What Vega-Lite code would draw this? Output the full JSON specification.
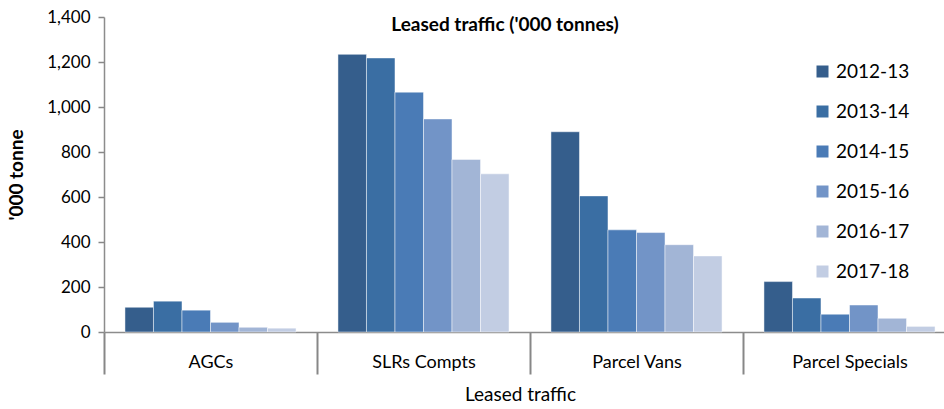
{
  "$schema": "https://vega.github.io/schema/vega-lite/v6.json",
  "autosize": {"type": "none"},
  "padding": {"left": 104, "top": 17, "right": 0, "bottom": 77},
  "width": 840,
  "height": 315,
  "background": "white",
  "title": {
    "text": "Leased traffic ('000 tonnes)",
    "font": "Lato",
    "fontSize": 19,
    "fontWeight": "bold",
    "color": "#000000",
    "anchor": "middle",
    "baseline": "middle",
    "offset": -12,
    "dy": 24,
    "dx": -19
  },
  "config": {
    "view": {"stroke": null},
    "font": "Lato",
    "axis": {"labelFont": "Lato", "titleFont": "Lato", "grid": false}
  },
  "data": {
    "values": [
      {"cat": "AGCs", "year": "2012-13", "value": 110},
      {"cat": "AGCs", "year": "2013-14", "value": 137},
      {"cat": "AGCs", "year": "2014-15", "value": 97},
      {"cat": "AGCs", "year": "2015-16", "value": 43},
      {"cat": "AGCs", "year": "2016-17", "value": 21},
      {"cat": "AGCs", "year": "2017-18", "value": 17},
      {"cat": "SLRs Compts", "year": "2012-13", "value": 1234},
      {"cat": "SLRs Compts", "year": "2013-14", "value": 1218},
      {"cat": "SLRs Compts", "year": "2014-15", "value": 1066},
      {"cat": "SLRs Compts", "year": "2015-16", "value": 947},
      {"cat": "SLRs Compts", "year": "2016-17", "value": 767},
      {"cat": "SLRs Compts", "year": "2017-18", "value": 703},
      {"cat": "Parcel Vans", "year": "2012-13", "value": 890},
      {"cat": "Parcel Vans", "year": "2013-14", "value": 605},
      {"cat": "Parcel Vans", "year": "2014-15", "value": 454},
      {"cat": "Parcel Vans", "year": "2015-16", "value": 442},
      {"cat": "Parcel Vans", "year": "2016-17", "value": 388},
      {"cat": "Parcel Vans", "year": "2017-18", "value": 338},
      {"cat": "Parcel Specials", "year": "2012-13", "value": 224},
      {"cat": "Parcel Specials", "year": "2013-14", "value": 151},
      {"cat": "Parcel Specials", "year": "2014-15", "value": 79},
      {"cat": "Parcel Specials", "year": "2015-16", "value": 120},
      {"cat": "Parcel Specials", "year": "2016-17", "value": 61},
      {"cat": "Parcel Specials", "year": "2017-18", "value": 25}
    ]
  },
  "mark": {"type": "bar", "stroke": "#ffffff", "strokeWidth": 0.8, "strokeOpacity": 0.6},
  "encoding": {
    "x": {
      "field": "cat",
      "type": "nominal",
      "sort": ["AGCs", "SLRs Compts", "Parcel Vans", "Parcel Specials"],
      "scale": {"paddingInner": 0, "paddingOuter": 0, "range": [0, 852]},
      "axis": {
        "title": "Leased traffic",
        "titleFontSize": 19,
        "titleFontWeight": "normal",
        "titleColor": "#000000",
        "titlePadding": 10,
        "titleAnchor": "start",
        "titleAlign": "center",
        "titleX": 416,
        "labelAngle": 0,
        "labelFontSize": 18,
        "labelColor": "#000000",
        "labelPadding": -21,
        "tickBand": "extent",
        "tickSize": 42,
        "tickColor": "#878787",
        "tickWidth": 2,
        "domainColor": "#8c8c8c",
        "domainWidth": 1.5
      }
    },
    "xOffset": {
      "field": "year",
      "type": "nominal",
      "scale": {"paddingInner": 0, "paddingOuter": 0.735}
    },
    "y": {
      "field": "value",
      "type": "quantitative",
      "scale": {"domain": [0, 1400], "nice": false},
      "axis": {
        "title": "'000 tonne",
        "titleFontSize": 19,
        "titleFontWeight": "bold",
        "titleColor": "#000000",
        "titlePadding": 20,
        "values": [0, 200, 400, 600, 800, 1000, 1200, 1400],
        "format": ",d",
        "labelFontSize": 17,
        "labelColor": "#000000",
        "labelPadding": 8,
        "tickSize": 6,
        "tickColor": "#878787",
        "tickWidth": 1.5,
        "domainColor": "#8c8c8c",
        "domainWidth": 1.5
      }
    },
    "fill": {
      "field": "year",
      "type": "nominal",
      "scale": {
        "domain": ["2012-13", "2013-14", "2014-15", "2015-16", "2016-17", "2017-18"],
        "range": ["#355e8c", "#3a6ea3", "#4a7bb6", "#7294c7", "#a2b5d6", "#c2cde3"]
      },
      "legend": {
        "title": null,
        "orient": "none",
        "legendX": 709,
        "legendY": 45,
        "symbolType": "square",
        "symbolSize": 144,
        "symbolStrokeWidth": 0,
        "labelFontSize": 19,
        "labelColor": "#000000",
        "labelOffset": 4,
        "rowPadding": 20
      }
    }
  }
}
